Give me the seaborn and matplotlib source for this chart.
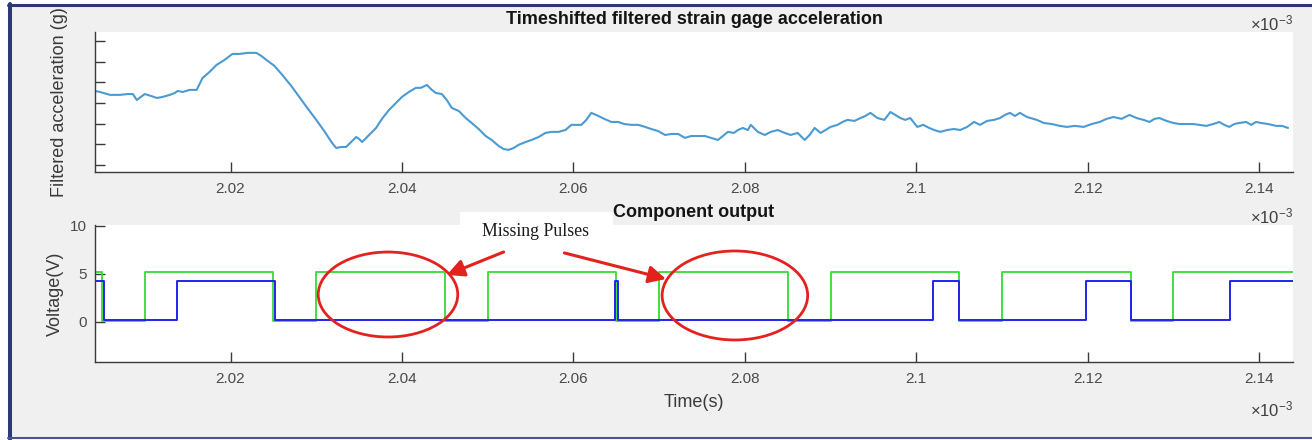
import matplotlib
matplotlib.use("Agg")
import matplotlib.pyplot as plt
import seaborn as sns
import numpy as np
import pandas as pd
from matplotlib.patches import Ellipse, Rectangle
from matplotlib.lines import Line2D

# ---------------- data (time in units of 1e-3 s) ----------------
accel_t = [2.00419, 2.00477, 2.00593, 2.00709, 2.00802, 2.00860, 2.00907, 2.00953, 2.01000, 2.01070,
           2.01140, 2.01209, 2.01291, 2.01349, 2.01384, 2.01442, 2.01523, 2.01605, 2.01674, 2.01756,
           2.01837, 2.01930, 2.02023, 2.02105, 2.02198, 2.02302, 2.02360, 2.02419, 2.02512, 2.02605,
           2.02709, 2.02802, 2.02895, 2.03000, 2.03093, 2.03186, 2.03233, 2.03291, 2.03349, 2.03407,
           2.03465, 2.03500, 2.03535, 2.03616, 2.03698, 2.03767, 2.03849, 2.03930, 2.04000, 2.04081,
           2.04163, 2.04221, 2.04291, 2.04349, 2.04395, 2.04465, 2.04523, 2.04581, 2.04663, 2.04744,
           2.04814, 2.04895, 2.04977, 2.05047, 2.05128, 2.05186, 2.05244, 2.05302, 2.05360, 2.05442,
           2.05512, 2.05593, 2.05674, 2.05744, 2.05826, 2.05907, 2.05977, 2.06093, 2.06151, 2.06209,
           2.06291, 2.06360, 2.06442, 2.06523, 2.06593, 2.06674, 2.06756, 2.06837, 2.06907, 2.06988,
           2.07070, 2.07140, 2.07221, 2.07302, 2.07372, 2.07453, 2.07535, 2.07605, 2.07686, 2.07744,
           2.07802, 2.07872, 2.07919, 2.07977, 2.08035, 2.08070, 2.08151, 2.08233, 2.08302, 2.08384,
           2.08465, 2.08535, 2.08616, 2.08698, 2.08756, 2.08814, 2.08884, 2.08942, 2.09000, 2.09081,
           2.09140, 2.09198, 2.09279, 2.09349, 2.09407, 2.09465, 2.09547, 2.09628, 2.09698, 2.09756,
           2.09814, 2.09872, 2.09930, 2.10012, 2.10081, 2.10151, 2.10209, 2.10279, 2.10360, 2.10442,
           2.10512, 2.10593, 2.10674, 2.10744, 2.10826, 2.10907, 2.10977, 2.11035, 2.11093, 2.11151,
           2.11209, 2.11291, 2.11407, 2.11488, 2.11581, 2.11674, 2.11756, 2.11849, 2.11953, 2.12047,
           2.12140, 2.12221, 2.12302, 2.12395, 2.12488, 2.12570, 2.12651, 2.12721, 2.12779, 2.12837,
           2.12919, 2.13000, 2.13070, 2.13151, 2.13233, 2.13302, 2.13384, 2.13465, 2.13535, 2.13593,
           2.13651, 2.13709, 2.13767, 2.13849, 2.13907, 2.13965, 2.14023, 2.14105, 2.14198, 2.14267,
           2.14337]
accel_g = [3.58, 3.53, 3.39, 3.39, 3.43, 3.43, 3.14, 3.29, 3.43, 3.34,
           3.24, 3.29, 3.39, 3.48, 3.58, 3.53, 3.63, 3.63, 4.21, 4.50,
           4.84, 5.08, 5.37, 5.37, 5.42, 5.42, 5.27, 5.08, 4.79, 4.35,
           3.82, 3.29, 2.76, 2.18, 1.64, 1.06, 0.82, 0.87, 0.87, 1.11,
           1.35, 1.26, 1.11, 1.45, 1.79, 2.23, 2.66, 3.00, 3.29, 3.53,
           3.73, 3.73, 3.87, 3.63, 3.48, 3.43, 3.14, 2.76, 2.61, 2.27,
           2.03, 1.74, 1.40, 1.21, 0.92, 0.77, 0.73, 0.82, 0.97, 1.11,
           1.21, 1.35, 1.55, 1.60, 1.60, 1.69, 1.94, 1.94, 2.18, 2.52,
           2.37, 2.23, 2.08, 2.08, 1.98, 1.94, 1.94, 1.84, 1.74, 1.64,
           1.45, 1.50, 1.50, 1.31, 1.40, 1.40, 1.40, 1.31, 1.21, 1.40,
           1.60, 1.55, 1.69, 1.79, 1.69, 1.94, 1.60, 1.45, 1.60, 1.69,
           1.55, 1.45, 1.55, 1.21, 1.45, 1.79, 1.55, 1.69, 1.84, 1.94,
           2.08, 2.18, 2.13, 2.27, 2.37, 2.52, 2.27, 2.18, 2.56, 2.42,
           2.27, 2.18, 2.27, 1.84, 1.94, 1.79, 1.69, 1.60, 1.69, 1.74,
           1.69, 1.84, 2.08, 1.94, 2.13, 2.18, 2.27, 2.42, 2.52, 2.37,
           2.52, 2.32, 2.18, 2.03, 1.98, 1.89, 1.84, 1.89, 1.84, 1.98,
           2.08, 2.23, 2.32, 2.23, 2.42, 2.27, 2.18, 2.08, 2.23, 2.27,
           2.13, 2.03, 1.98, 1.98, 1.98, 1.94, 1.89, 1.98, 2.08, 1.94,
           1.84, 1.98, 2.03, 2.08, 1.94, 2.08, 2.03, 1.98, 1.89, 1.89,
           1.79]

green_t = [2.00419, 2.0050, 2.0100, 2.0250, 2.0300, 2.0450, 2.0500, 2.0650,
           2.0700, 2.0850, 2.0900, 2.1050, 2.1100, 2.1250, 2.1300, 2.14395]
green_v = [5.2, 0.05, 5.2, 0.05, 5.2, 0.05, 5.2, 0.05,
           5.2, 0.05, 5.2, 0.05, 5.2, 0.05, 5.2, 5.2]

blue_t = [2.00419, 2.0052, 2.0138, 2.0252, 2.0648, 2.0652,
          2.1020, 2.1050, 2.1198, 2.1250, 2.1366, 2.14395]
blue_v = [4.25, 0.2, 4.25, 0.2, 4.25, 0.2,
          4.25, 0.2, 4.25, 0.2, 4.25, 4.25]

x_ticks = [2.02, 2.04, 2.06, 2.08, 2.10, 2.12, 2.14]
x_tick_labels = ["2.02", "2.04", "2.06", "2.08", "2.1", "2.12", "2.14"]
accel_ticks = [0, 1, 2, 3, 4, 5, 6]
volt_ticks = [0, 5, 10]
volt_tick_labels = ["0", "5", "10"]

title_top = "Timeshifted filtered strain gage acceleration"
title_bottom = "Component output"
ylabel_top = "Filtered acceleration (g)"
ylabel_bottom = "Voltage(V)"
xlabel_bottom = "Time(s)"
annot_text = "Missing Pulses"
exp_text = r"$\times10^{-3}$"

# ---------------- style ----------------
sns.set_theme(style="white")
plt.rcParams["font.family"] = ["Liberation Sans", "DejaVu Sans"]
plt.rcParams["mathtext.fontset"] = "custom"
plt.rcParams["mathtext.rm"] = "Liberation Sans"
plt.rcParams["mathtext.it"] = "Liberation Sans:italic"
plt.rcParams["mathtext.bf"] = "Liberation Sans:bold"

W, H = 1312, 440
fig = plt.figure(figsize=(W / 100, H / 100), dpi=100, facecolor="white")


def fx(px):
    return px / W


def fy(py):
    return 1 - py / H


# grey MATLAB figure background
fig.patches.append(Rectangle((fx(10), fy(437)), 1.0, (437 - 6) / H,
                             transform=fig.transFigure, facecolor="#f0f0f0",
                             edgecolor="none", zorder=-10))

ax_l, ax_r = 95, 1293
ax1 = fig.add_axes([fx(ax_l), fy(172), (ax_r - ax_l) / W, (172 - 32) / H])
ax2 = fig.add_axes([fx(ax_l), fy(362), (ax_r - ax_l) / W, (362 - 225) / H])

spine_c = "#3a3a3a"
tick_c = "#4a4a4a"
for ax in (ax1, ax2):
    ax.set_facecolor("white")
    for s in ("top", "right"):
        ax.spines[s].set_visible(False)
    for s in ("left", "bottom"):
        ax.spines[s].set_color(spine_c)
        ax.spines[s].set_linewidth(1.0)
    ax.tick_params(axis="both", direction="in", length=7.5, width=1.0,
                   color=spine_c, labelcolor=tick_c, labelsize=11,
                   left=True, bottom=True)
    ax.tick_params(axis="x", pad=7)
    ax.tick_params(axis="y", pad=6)
    ax.set_xlim(2.00419, 2.14395)
    ax.set_xticks(x_ticks)
    ax.set_xticklabels(x_tick_labels)
    ax.grid(False)

# ---------------- top panel ----------------
df_acc = pd.DataFrame({"t": accel_t[:len(accel_g)], "g": accel_g[:len(accel_t)]})
sns.lineplot(data=df_acc, x="t", y="g", ax=ax1, color="#4b9bd3", linewidth=1.5,
             estimator=None, sort=False)
ax1.set_ylim(-0.34, 6.43)
ax1.set_yticks(accel_ticks)
ax1.set_yticklabels([])
ax1.set_xlabel("")
ax1.set_ylabel(ylabel_top, fontsize=13, color="#3a3a3a")
ax1.yaxis.set_label_coords(-0.0225, 0.5)
ax1.set_title(title_top, fontsize=13, fontweight="bold", color="#141414", pad=6)

# ---------------- bottom panel ----------------
sns.lineplot(x=green_t, y=green_v, ax=ax2, color="#33dd33", linewidth=1.3,
             drawstyle="steps-post", estimator=None, sort=False)
sns.lineplot(x=blue_t, y=blue_v, ax=ax2, color="#2222ee", linewidth=1.4,
             drawstyle="steps-post", estimator=None, sort=False)
ax2.set_ylim(-4.17, 10.1)
ax2.set_yticks(volt_ticks)
ax2.set_yticklabels(volt_tick_labels)
ax2.set_ylabel(ylabel_bottom, fontsize=13, color="#3a3a3a")
ax2.yaxis.set_label_coords(-0.026, 0.5)
ax2.set_xlabel(xlabel_bottom, fontsize=13, color="#3a3a3a", labelpad=6)
ax2.set_title(title_bottom, fontsize=13, fontweight="bold", color="#141414", pad=6)

red = "#e3221e"
ax2.add_patch(Ellipse((2.03837, 2.86), 0.01628, 8.85, fill=False,
                      edgecolor=red, linewidth=2.0, zorder=6))
ax2.add_patch(Ellipse((2.07884, 2.76), 0.01698, 9.27, fill=False,
                      edgecolor=red, linewidth=2.0, zorder=6))
arrow_kw = dict(arrowstyle="-|>", color=red, lw=2.2, mutation_scale=26,
                shrinkA=0, shrinkB=0)
ax2.annotate("", xy=(2.04523, 4.90), xytext=(2.05186, 7.29),
             arrowprops=arrow_kw, annotation_clip=False, zorder=7)
ax2.annotate("", xy=(2.07081, 4.48), xytext=(2.05895, 7.19),
             arrowprops=arrow_kw, annotation_clip=False, zorder=7)

# white label box + annotation text
fig.patches.append(Rectangle((fx(460), fy(250)), (613 - 460) / W, (250 - 212) / H,
                             transform=fig.transFigure, facecolor="white",
                             edgecolor="none", zorder=3))
fig.text(fx(535.5), fy(232), annot_text, ha="center", va="center",
         fontsize=12.8, family=["Liberation Serif", "DejaVu Serif"],
         color="#1a1a1a", zorder=4)

# exponent labels (MATLAB style)
for py in (23, 216, 409):
    fig.text(fx(1293), fy(py), exp_text, ha="right", va="center",
             fontsize=12, color="#3f3f3f")

# navy frame of the screenshot
frame_c = "#2d3878"
fig.add_artist(Line2D([fx(8), 1.0], [fy(5.5), fy(5.5)], transform=fig.transFigure,
                      color=frame_c, linewidth=2.2, zorder=20))
fig.add_artist(Line2D([fx(9.5), fx(9.5)], [fy(4), fy(439)], transform=fig.transFigure,
                      color=frame_c, linewidth=2.9, zorder=20))
fig.add_artist(Line2D([fx(8), 1.0], [fy(438.2), fy(438.2)], transform=fig.transFigure,
                      color="#4a5590", linewidth=1.5, zorder=20))

fig.savefig("out.png", dpi=100, facecolor="white")
